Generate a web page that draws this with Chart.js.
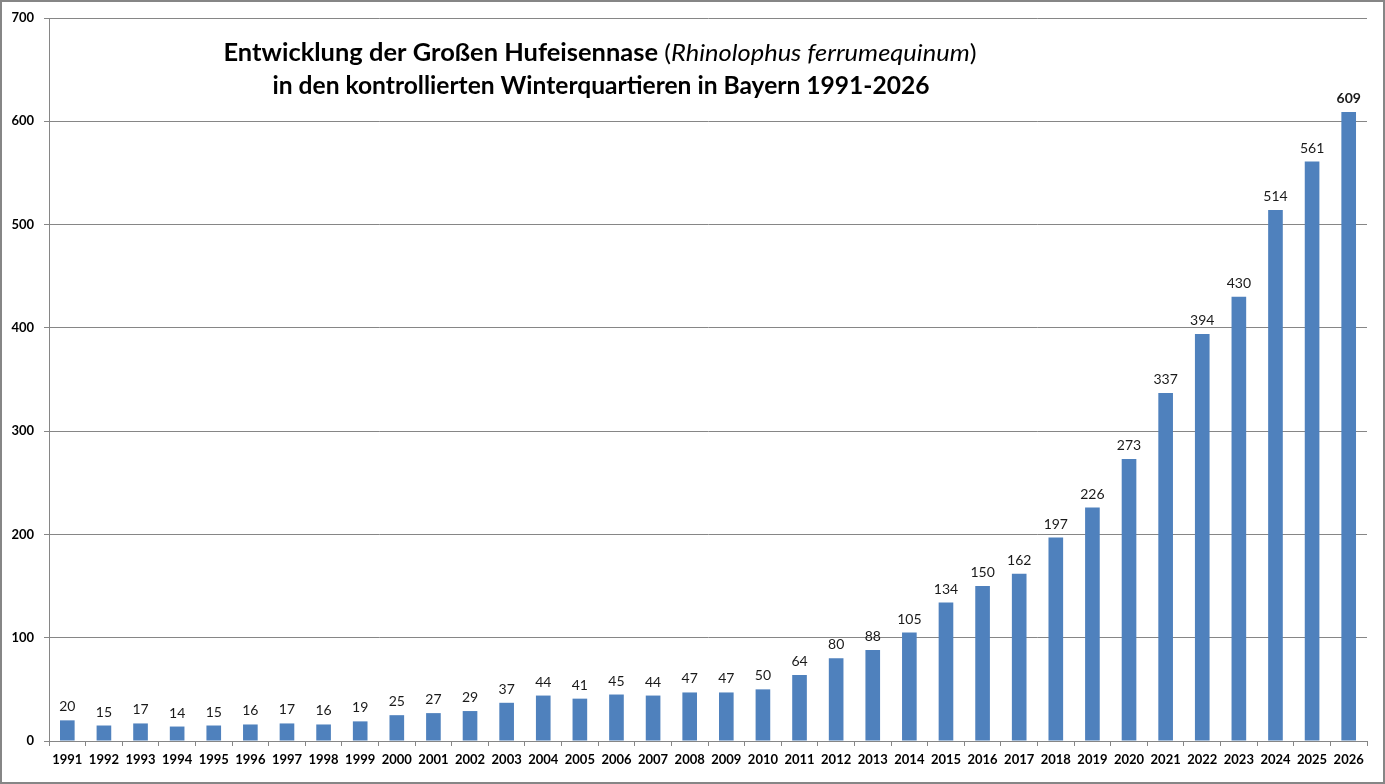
<!DOCTYPE html>
<html>
<head>
<meta charset="utf-8">
<script src="https://cdn.jsdelivr.net/npm/chart.js@4.4.0/dist/chart.umd.min.js"></script>
<style>
  body { margin: 0; background: #fff; }
  canvas { display: block; }
</style>
</head>
<body>
<canvas id="chart" width="1385" height="784"></canvas>
<script>
const years = ["1991", "1992", "1993", "1994", "1995", "1996", "1997", "1998", "1999", "2000",
    "2001", "2002", "2003", "2004", "2005", "2006", "2007", "2008", "2009", "2010",
    "2011", "2012", "2013", "2014", "2015", "2016", "2017", "2018", "2019", "2020",
    "2021", "2022", "2023", "2024", "2025", "2026"];
const counts = [20, 15, 17, 14, 15, 16, 17, 16, 19, 25,
    27, 29, 37, 44, 41, 45, 44, 47, 47, 50,
    64, 80, 88, 105, 134, 150, 162, 197, 226, 273,
    337, 394, 430, 514, 561, 609];
const yTicks = [0, 100, 200, 300, 400, 500, 600, 700];
const titleLine1 = [
    { text: "Entwicklung der Großen Hufeisennase ", style: "bold" },
    { text: "(", style: "normal" },
    { text: "Rhinolophus ferrumequinum", style: "italic" },
    { text: ")", style: "normal" }
];
const titleLine2 = "in den kontrollierten Winterquartieren in Bayern 1991-2026";

const grey = "#868686";
const fam = "Lato, 'Open Sans', sans-serif";

// frame round the whole picture
const framePlugin = {
    id: "frame",
    beforeDraw(chart) {
        const c = chart.ctx;
        c.save();
        c.fillStyle = "#fff";
        c.fillRect(0, 0, chart.width, chart.height);
        c.strokeStyle = grey;
        c.lineWidth = 2;
        c.strokeRect(1, 1, chart.width - 2, chart.height - 2);
        c.restore();
    }
};

// values above the bars, last one bold
const valuePlugin = {
    id: "values",
    afterDatasetsDraw(chart) {
        const c = chart.ctx;
        const meta = chart.getDatasetMeta(0);
        c.save();
        c.fillStyle = "#1a1a1a";
        c.textAlign = "center";
        c.textBaseline = "alphabetic";
        meta.data.forEach((bar, i) => {
            const last = i === meta.data.length - 1;
            c.font = (last ? "bold " : "") + "14px " + fam;
            c.fillText(String(counts[i]), bar.x, bar.y - 9);
        });
        c.restore();
    }
};

// two-line title with italic species name
const titlePlugin = {
    id: "titleText",
    afterDraw(chart) {
        const c = chart.ctx;
        const size = 24;
        const fontFor = s => (s === "bold" ? "bold " : s === "italic" ? "italic " : "") + size + "px " + fam;
        c.save();
        c.fillStyle = "#000";
        c.textBaseline = "alphabetic";
        c.textAlign = "left";

        // line 1
        let w1 = 0;
        titleLine1.forEach(p => { c.font = fontFor(p.style); w1 += c.measureText(p.text).width; });
        const sx1 = 753 / w1;
        c.save();
        c.translate(600 - 753 / 2, 61);
        c.scale(sx1, 1);
        let x = 0;
        titleLine1.forEach(p => {
            c.font = fontFor(p.style);
            c.fillText(p.text, x, 0);
            x += c.measureText(p.text).width;
        });
        c.restore();

        // line 2
        c.font = fontFor("bold");
        const w2 = c.measureText(titleLine2).width;
        const sx2 = 657 / w2;
        c.save();
        c.translate(601 - 657 / 2, 94);
        c.scale(sx2, 1);
        c.fillText(titleLine2, 0, 0);
        c.restore();
        c.restore();
    }
};

new Chart(document.getElementById("chart"), {
    type: "bar",
    data: {
        labels: years,
        datasets: [{
            data: counts,
            backgroundColor: "#4F81BD",
            borderWidth: 0,
            barPercentage: 0.4,
            categoryPercentage: 1.0
        }]
    },
    options: {
        responsive: false,
        animation: false,
        layout: { padding: { top: 18, right: 18, left: 0, bottom: 0 } },
        plugins: {
            legend: { display: false },
            tooltip: { enabled: false }
        },
        scales: {
            x: {
                offset: true,
                grid: {
                    offset: true,
                    drawOnChartArea: false,
                    drawTicks: true,
                    tickLength: 5,
                    color: grey
                },
                border: { display: true, color: grey, width: 1 },
                ticks: {
                    autoSkip: false,
                    maxRotation: 0,
                    padding: 6,
                    color: "#000",
                    font: { family: fam, size: 13, weight: "bold" }
                },
                afterFit(scale) { scale.height = 43; }
            },
            y: {
                min: 0,
                max: 700,
                afterBuildTicks(scale) { scale.ticks = yTicks.map(v => ({ value: v })); },
                grid: {
                    drawOnChartArea: true,
                    drawTicks: true,
                    tickLength: 5,
                    color: grey
                },
                border: { display: true, color: grey, width: 1 },
                ticks: {
                    padding: 10,
                    color: "#000",
                    font: { family: fam, size: 13, weight: "bold" }
                },
                afterFit(scale) { scale.width = 49; }
            }
        }
    },
    plugins: [framePlugin, valuePlugin, titlePlugin]
});
</script>
</body>
</html>
